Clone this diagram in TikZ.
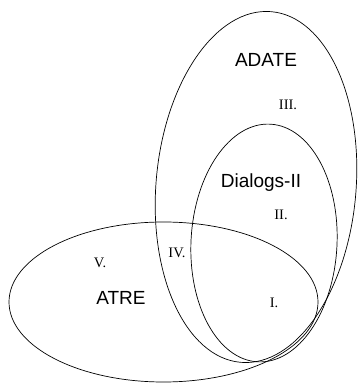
\documentclass[tikz,border=0pt]{standalone}
\usepackage{fontspec}
\setmainfont{Liberation Serif}
\setsansfont{Liberation Sans}
\begin{document}
\begin{tikzpicture}[x=1pt,y=1pt,
  set/.style={draw=black,line width=0.7pt},
  setname/.style={font=\sffamily\fontsize{19}{19}\selectfont,inner sep=0pt},
  region/.style={font=\rmfamily\fontsize{14.5}{14.5}\selectfont,inner sep=0pt}]
\useasboundingbox (0,0) rectangle (357,383);
% ADATE
\draw[set,rotate around={-5:(256,196)}] (256,196) ellipse [x radius=100, y radius=176];
% Dialogs-II
\draw[set,rotate around={-3:(264,140)}] (264,140) ellipse [x radius=73, y radius=119];
% ATRE
\draw[set] (163.5,81) ellipse [x radius=154.5, y radius=80];
\node[setname] (adate) at (266,323) {ADATE};
\node[setname] (dialogs) at (261,200) {Dialogs-II};
\node[setname] (atre) at (121,85) {ATRE};
\node[region] (r3) at (288,278) {III.};
\node[region] (r2) at (281,168) {II.};
\node[region] (r4) at (177,130) {IV.};
\node[region] (r5) at (100,120) {V.};
\node[region] (r1) at (274,80) {I.};
\end{tikzpicture}
\end{document}
